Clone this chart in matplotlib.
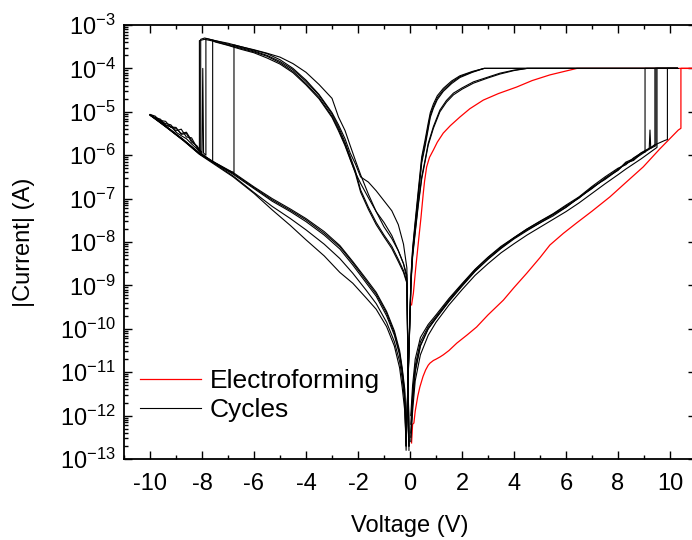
import numpy as np
import matplotlib
matplotlib.use("Agg")
import matplotlib.pyplot as plt
from matplotlib.ticker import LogLocator, MultipleLocator, NullFormatter

plt.rcParams['font.family'] = ['Liberation Sans', 'DejaVu Sans']
plt.rcParams['mathtext.default'] = 'regular'
plt.rcParams['axes.unicode_minus'] = False

# ---------------- data (voltages in V, currents as log10 of |I| in A) ----------------
COMPLIANCE_LOG = -4.0          # current compliance, 1e-4 A
CYCLE_MAX_V = 10.3             # end of the positive sweep for the cycles
FORMING_MAX_V = 11.5           # end of the positive sweep for electroforming

# Electroforming: set sweep, switching, return along the low-resistance branch
RED_SET_V = [0.06, 0.10, 0.15, 0.20, 0.30, 0.38, 0.50, 0.60, 0.70, 0.77, 0.90, 1.00,
             1.15, 1.28, 1.50, 1.80, 2.20, 2.56, 3.00, 3.59, 4.00, 4.49, 5.00, 5.38,
             5.90, 6.41, 7.00, 7.69, 8.30, 8.97, 9.60, 10.32, 10.42]
RED_SET_LOG = [-12.63, -12.20, -12.17, -11.90, -11.55, -11.34, -11.10, -10.95, -10.84,
               -10.79, -10.73, -10.70, -10.65, -10.60, -10.50, -10.33, -10.14, -9.96,
               -9.68, -9.34, -9.05, -8.72, -8.36, -8.07, -7.80, -7.56, -7.29, -6.96,
               -6.63, -6.27, -5.86, -5.42, -5.38]
RED_HIGH_V = [6.42, 6.00, 5.38, 4.70, 4.10, 3.40, 2.82, 2.30, 1.92, 1.55, 1.28, 1.05,
              0.90, 0.75, 0.64, 0.56, 0.51, 0.42, 0.32, 0.22, 0.13, 0.06]
RED_HIGH_LOG = [-4.00, -4.06, -4.15, -4.28, -4.43, -4.58, -4.73, -4.93, -5.12, -5.32,
                -5.49, -5.70, -5.88, -6.05, -6.27, -6.60, -6.88, -7.45, -8.02, -8.60,
                -9.18, -9.45]

# Cycles: positive sweep in the high-resistance state
POS_LOW_V = [0.03, 0.1, 0.2, 0.4, 0.7, 1.0, 1.5, 2.0, 2.5, 3.0, 3.5, 4.0, 4.5, 5.0, 5.5,
             6.0, 6.5, 7.0, 7.5, 8.0, 8.3, 8.6, 8.9, 9.2, 9.5, 9.8]
POS_LOW_LOG = [
    [-12.5, -11.7, -11.0, -10.4, -10.0, -9.76, -9.37, -9.02, -8.68, -8.40, -8.15, -7.93,
     -7.74, -7.56, -7.40, -7.20, -6.97, -6.77, -6.53, -6.35, -6.18, -6.12, -5.95],
    [-12.0, -11.3, -10.7, -10.2, -9.90, -9.68, -9.30, -8.96, -8.63, -8.35, -8.10, -7.90,
     -7.70, -7.52, -7.35, -7.15, -6.96, -6.72, -6.50, -6.30, -6.22, -6.06, -5.95, -5.86],
    [-12.6, -11.9, -11.2, -10.6, -10.15, -9.85, -9.45, -9.10, -8.77, -8.50, -8.25, -8.04,
     -7.84, -7.66, -7.48, -7.30, -7.10, -6.88, -6.66, -6.45, -6.32, -6.20, -6.08, -5.95],
    [-12.2, -11.5, -10.85, -10.3, -9.95, -9.72, -9.33, -8.98, -8.64, -8.36, -8.12, -7.90,
     -7.70, -7.53, -7.36, -7.17, -6.99, -6.74, -6.56, -6.34, -6.16, -6.08, -5.94, -5.84,
     -5.74, -5.66],
    [-12.4, -11.65, -10.95, -10.38, -10.0, -9.75, -9.36, -9.00, -8.67, -8.39, -8.14, -7.91,
     -7.72, -7.56, -7.37, -7.20, -6.98, -6.76, -6.54, -6.32, -6.20, -6.10, -5.98, -5.86],
]
# last points before the jump to compliance (includes a current spike in cycle 2)
POS_SET_TAIL_V = [[9.04], [9.23, 9.26, 9.42], [9.50], [9.90], [9.46]]
POS_SET_TAIL_LOG = [[-5.93], [-5.42, -5.84, -5.75], [-5.82], [-5.64], [-5.78]]

# Cycles: return of the positive sweep in the low-resistance state
POS_HIGH_V_A = [2.85, 2.4, 1.92, 1.6, 1.28, 1.05, 0.9, 0.78, 0.7, 0.58, 0.45, 0.32, 0.19,
                0.1, 0.04, 0.01]
POS_HIGH_V_B = [4.5, 4.0, 3.46, 3.0, 2.44, 2.0, 1.67, 1.4, 1.15, 0.9, 0.7, 0.58, 0.45,
                0.32, 0.19, 0.1, 0.04, 0.01]
POS_HIGH_GROUP = ['A', 'A', 'A', 'B', 'B']
POS_HIGH_LOG = [
    [-4.0, -4.08, -4.19, -4.32, -4.50, -4.68, -4.88, -5.08, -5.34, -5.73, -6.11, -6.88,
     -7.65, -8.20, -8.80, -9.40],
    [-4.0, -4.07, -4.17, -4.29, -4.46, -4.63, -4.82, -5.02, -5.26, -5.65, -6.04, -6.80,
     -7.58, -8.15, -8.75, -9.45],
    [-4.0, -4.09, -4.21, -4.35, -4.53, -4.72, -4.92, -5.13, -5.40, -5.80, -6.18, -6.95,
     -7.72, -8.28, -8.88, -9.50],
    [-4.0, -4.04, -4.11, -4.20, -4.31, -4.45, -4.57, -4.74, -4.96, -5.34, -5.73, -6.11,
     -6.50, -7.10, -7.80, -8.30, -8.90, -9.50],
    [-4.0, -4.05, -4.13, -4.22, -4.34, -4.48, -4.61, -4.78, -5.00, -5.38, -5.77, -6.15,
     -6.55, -7.15, -7.85, -8.35, -8.95, -9.55],
]

# Cycles: negative sweep 0 -> -10 V in the high-resistance state
NEG_LOW_V = [-0.15, -0.2, -0.3, -0.4, -0.6, -0.9, -1.3, -1.7, -2.2, -2.7, -3.3, -4.0,
             -4.6, -5.3, -6.0, -6.8, -7.5, -8.1, -8.7, -9.3, -10.0]
NEG_LOW_LOG = [
    [-12.7, -11.5, -10.95, -10.56, -10.1, -9.64, -9.20, -8.88, -8.48, -8.11, -7.80, -7.49,
     -7.27, -7.03, -6.75, -6.42, -6.18, -5.96, -5.66, -5.38, -5.07],
    [-12.6, -11.4, -10.9, -10.5, -10.05, -9.60, -9.16, -8.84, -8.45, -8.08, -7.76, -7.46,
     -7.24, -7.00, -6.73, -6.40, -6.17, -5.95, -5.65, -5.37, -5.07],
    [-12.8, -11.6, -11.0, -10.6, -10.15, -9.70, -9.25, -8.93, -8.53, -8.16, -7.84, -7.53,
     -7.30, -7.06, -6.77, -6.44, -6.19, -5.97, -5.67, -5.39, -5.08],
    [-12.7, -11.7, -11.15, -10.75, -10.3, -9.85, -9.42, -9.10, -8.72, -8.38, -8.05, -7.72,
     -7.46, -7.18, -6.86, -6.48, -6.20, -5.97, -5.66, -5.38, -5.07],
    [-12.7, -11.9, -11.35, -10.9, -10.4, -9.95, -9.55, -9.28, -8.95, -8.70, -8.32, -7.95,
     -7.62, -7.26, -6.88, -6.50, -6.22, -5.98, -5.67, -5.39, -5.06],
]

# Cycles: return from -10 V until the jump to the low-resistance state
NEG_RET_V = [-10.0, -9.8, -9.6, -9.4, -9.2, -9.0, -8.8, -8.6, -8.4, -8.2, -8.0, -7.8,
             -7.6, -7.4, -7.2, -7.0, -6.8]
NEG_RET_LOG = [
    [-5.08, -5.14, -5.20, -5.22, -5.36, -5.38, -5.50, -5.47, -5.66, -5.80],
    [-5.06, -5.10, -5.22, -5.27, -5.30, -5.44, -5.40, -5.58, -5.60, -5.82],
    [-5.07, -5.13, -5.17, -5.30, -5.35, -5.36, -5.52, -5.50, -5.70, -5.78, -5.95],
    [-5.07, -5.15, -5.20, -5.32, -5.33, -5.47, -5.55, -5.62, -5.74, -5.85, -5.97, -6.06],
    [-5.07, -5.16, -5.24, -5.33, -5.42, -5.52, -5.60, -5.70, -5.80, -5.90, -5.99, -6.07,
     -6.14, -6.21, -6.28, -6.35],
]
NEG_RET_TAIL_V = [[-8.10], [-8.05], [-7.97, -7.94, -7.85], [-7.59], [-6.77]]
NEG_RET_TAIL_LOG = [[-5.90], [-5.92], [-4.00, -5.95, -6.00], [-6.16], [-6.40]]
NEG_SWITCH_TOP_LOG = [-3.36, -3.33, -3.31, -3.35, -3.46]

# Cycles: return to 0 V in the low-resistance state (aligned to the end of the grid)
NEG_HIGH_V = [-7.9, -7.5, -7.0, -6.5, -6.0, -5.5, -5.0, -4.5, -4.0, -3.5, -3.0, -2.75,
              -2.5, -2.3, -2.1, -1.9, -1.6, -1.3, -1.0, -0.7, -0.45, -0.25, -0.12, -0.04]
NEG_HIGH_LOG = [
    [-3.33, -3.38, -3.46, -3.54, -3.62, -3.72, -3.87, -4.07, -4.35, -4.67, -5.10, -5.40,
     -5.75, -6.08, -6.42, -6.85, -7.25, -7.60, -7.88, -8.15, -8.45, -8.70, -8.95, -12.7],
    [-3.30, -3.36, -3.44, -3.52, -3.60, -3.70, -3.84, -4.03, -4.30, -4.62, -5.05, -5.35,
     -5.70, -6.03, -6.36, -6.80, -7.20, -7.55, -7.84, -8.10, -8.40, -8.66, -8.92, -12.6],
    [-3.36, -3.42, -3.50, -3.58, -3.66, -3.80, -4.00, -4.27, -4.60, -5.02, -5.30,
     -5.62, -5.95, -6.20, -6.50, -6.62, -6.82, -7.05, -7.28, -7.60, -8.05, -8.60, -12.7],
    [-3.39, -3.47, -3.56, -3.64, -3.76, -3.90, -4.10, -4.38, -4.70, -5.13, -5.44,
     -5.78, -6.10, -6.40, -6.65, -6.98, -7.30, -7.55, -7.85, -8.20, -8.50, -8.85, -12.8],
    [-3.50, -3.57, -3.65, -3.74, -3.89, -4.09, -4.37, -4.69, -5.12, -5.43,
     -5.78, -6.12, -6.45, -6.90, -7.30, -7.65, -7.92, -8.20, -8.50, -8.76, -12.7],
]

X_TICKS = [-10, -8, -6, -4, -2, 0, 2, 4, 6, 8, 10]


def cycle_path(k):
    v, lg = [], []
    # positive sweep, high-resistance state
    n = len(POS_LOW_LOG[k])
    v += POS_LOW_V[:n] + POS_SET_TAIL_V[k]
    lg += POS_LOW_LOG[k] + POS_SET_TAIL_LOG[k]
    # jump to compliance, hold to the end of the sweep and back
    vset = POS_SET_TAIL_V[k][-1]
    high_v = POS_HIGH_V_A if POS_HIGH_GROUP[k] == 'A' else POS_HIGH_V_B
    v += [vset, CYCLE_MAX_V]
    lg += [COMPLIANCE_LOG, COMPLIANCE_LOG]
    v += high_v
    lg += POS_HIGH_LOG[k]
    # negative sweep
    v += NEG_LOW_V
    lg += NEG_LOW_LOG[k]
    m = len(NEG_RET_LOG[k])
    v += NEG_RET_V[:m] + NEG_RET_TAIL_V[k]
    lg += NEG_RET_LOG[k] + NEG_RET_TAIL_LOG[k]
    vjump = NEG_RET_TAIL_V[k][-1]
    v += [vjump]
    lg += [NEG_SWITCH_TOP_LOG[k]]
    hv = NEG_HIGH_V[len(NEG_HIGH_V) - len(NEG_HIGH_LOG[k]):]
    v += hv
    lg += NEG_HIGH_LOG[k]
    return np.array(v), 10.0 ** np.array(lg)


fig = plt.figure(figsize=(6.92, 5.40), dpi=100)
ax = fig.add_axes([124 / 692, 81 / 540, 572 / 692, 434 / 540])

# electroforming curve
red_v = RED_SET_V + [RED_SET_V[-1], FORMING_MAX_V] + RED_HIGH_V
red_lg = RED_SET_LOG + [COMPLIANCE_LOG, COMPLIANCE_LOG] + RED_HIGH_LOG
ax.plot(red_v, 10.0 ** np.array(red_lg), color='#ff0000', lw=0.9, zorder=2,
        label='Electroforming')

for k in range(len(POS_LOW_LOG)):
    cv, ci = cycle_path(k)
    ax.plot(cv, ci, color='black', lw=0.8, zorder=3,
            label='Cycles' if k == 0 else None)

ax.set_xlim(-11, 11)
ax.set_yscale('log')
ax.set_ylim(1e-13, 1e-3)

ax.set_xticks(X_TICKS)
ax.set_xticklabels([str(t) for t in X_TICKS])
ax.xaxis.set_minor_locator(MultipleLocator(1))
ax.yaxis.set_major_locator(LogLocator(base=10, numticks=20))
ax.yaxis.set_minor_locator(LogLocator(base=10, subs=np.arange(2, 10), numticks=20))
ax.yaxis.set_minor_formatter(NullFormatter())

ax.tick_params(which='both', direction='in', top=True, right=True, width=1.0)
ax.tick_params(which='major', length=5.8)
ax.tick_params(which='minor', length=2.9)
ax.tick_params(axis='x', which='major', labelsize=17, pad=10)
ax.tick_params(axis='y', which='major', labelsize=17, pad=6)
for s in ax.spines.values():
    s.set_linewidth(1.3)

ax.set_xlabel('Voltage (V)', fontsize=17)
ax.set_ylabel('|Current| (A)', fontsize=17)
ax.xaxis.set_label_coords(0.5, -0.128)
ax.yaxis.set_label_coords(-0.155, 0.5)

leg = ax.legend(loc='center left', bbox_to_anchor=(0.028, 0.146), frameon=False,
                fontsize=19, handlelength=2.3, handletextpad=0.35, labelspacing=0.2,
                borderpad=0, borderaxespad=0)

fig.savefig('out.png', dpi=100)
